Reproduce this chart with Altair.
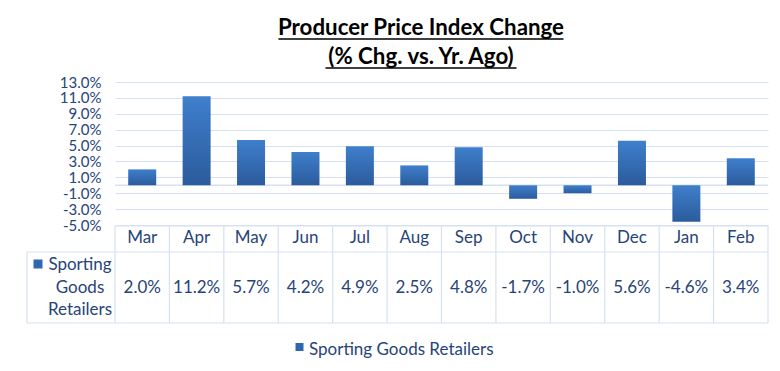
import altair as alt
import pandas as pd

months = ["Mar", "Apr", "May", "Jun", "Jul", "Aug", "Sep", "Oct", "Nov", "Dec", "Jan", "Feb"]
values = [2.0, 11.2, 5.7, 4.2, 4.9, 2.5, 4.8, -1.7, -1.0, 5.6, -4.6, 3.4]
series_name = "Sporting Goods Retailers"
title_lines = ["Producer Price Index Change", "(% Chg. vs. Yr. Ago)"]
y_ticks = [-5, -3, -1, 1, 3, 5, 7, 9, 11, 13]

FONT = "Lato"
TXT = "#264478"
GRID = "#D5E1F2"
W, H = 653, 143

df = pd.DataFrame({"month": months, "value": values, "label": [f"{v:.1f}%" for v in values]})
one = pd.DataFrame({"series": [series_name], "lab": [series_name.replace(" ", "\n")], "zero": [0]})

xenc = alt.X("month:N", sort=months, scale=alt.Scale(paddingInner=0, paddingOuter=0), axis=None)
xpos = alt.X("month:N", sort=months, axis=None)
yscale = alt.Scale(domain=[-5, 13], nice=False, zero=False)

grad = alt.Gradient(
    gradient="linear",
    stops=[alt.GradientStop(color="#3F7FCC", offset=0), alt.GradientStop(color="#2B5B9C", offset=1)],
    x1=0, x2=0, y1=0, y2=1,
)

base = alt.Chart(df)

grid = base.mark_bar(opacity=0).encode(
    x=xenc,
    y=alt.Y("value:Q", scale=yscale, title=None,
            axis=alt.Axis(values=y_ticks, tickCount=30, grid=True, gridColor=GRID, gridWidth=1.2,
                          domain=False, ticks=False, labelPadding=14, labelOverlap=False,
                          labelExpr="(datum.value < 0 ? '-' : '') + format(abs(datum.value), '.1f') + '%'",
                          labelFont=FONT, labelFontSize=15, labelColor=TXT)),
)

zero_line = alt.Chart(one).mark_rule(color=GRID, strokeWidth=1.5).encode(
    y=alt.Y("zero:Q"), x=alt.value(0), x2=alt.value(W))

bars = base.mark_bar(size=28, color=grad).encode(
    x=xpos, y=alt.Y("value:Q"), y2=alt.datum(0))

vlines = base.mark_rule(color=GRID, strokeWidth=1.2).encode(
    x=alt.X("month:N", sort=months, bandPosition=0, axis=None), y=alt.value(144), y2=alt.value(241))
hline_top = alt.Chart(one).mark_rule(color=GRID, strokeWidth=1.2).encode(
    x=alt.value(0), x2=alt.value(W), y=alt.value(144))
hline_mid = alt.Chart(one).mark_rule(color=GRID, strokeWidth=1.2).encode(
    x=alt.value(-88), x2=alt.value(W), y=alt.value(170))
hline_bot = alt.Chart(one).mark_rule(color=GRID, strokeWidth=1.2).encode(
    x=alt.value(-88), x2=alt.value(W), y=alt.value(241))
vleft = alt.Chart(one).mark_rule(color=GRID, strokeWidth=1.2).encode(
    x=alt.value(-88), y=alt.value(170), y2=alt.value(241))
vright = alt.Chart(one).mark_rule(color=GRID, strokeWidth=1.2).encode(
    x=alt.value(W), y=alt.value(144), y2=alt.value(241))

month_text = base.mark_text(font=FONT, fontSize=17, color=TXT, baseline="middle").encode(
    x=xpos, y=alt.value(156), text="month:N")
value_text = base.mark_text(font=FONT, fontSize=17, color=TXT, baseline="middle").encode(
    x=xpos, y=alt.value(206), text="label:N")

row_label = alt.Chart(one).mark_text(font=FONT, fontSize=17, color=TXT, baseline="middle", align="center",
                                     lineBreak="\n", lineHeight=22.5).encode(
    x=alt.value(-35), y=alt.value(183), text="lab:N")
row_sq = alt.Chart(one).mark_square(size=81, color="#2F66B0", opacity=1).encode(
    x=alt.value(-77), y=alt.value(182))

leg_sq = alt.Chart(one).mark_square(size=64, color="#2F66B0", opacity=1).encode(
    x=alt.value(184.5), y=alt.value(265))
leg_txt = alt.Chart(one).mark_text(font=FONT, fontSize=17, color=TXT, align="left", baseline="middle").encode(
    x=alt.value(194), y=alt.value(268), text="series:N")

tdf = pd.DataFrame({"t": title_lines, "ty": [-54, -25]})
titles = alt.Chart(tdf).mark_text(
    font=FONT, fontSize=22.3, fontWeight="bold", color="#000000", align="center", baseline="middle").encode(
    x=alt.value(306), y=alt.Y("ty:Q", scale=None), text="t:N")
u1 = alt.Chart(one).mark_rule(color="#000000", strokeWidth=1.5).encode(
    x=alt.value(306 - 142.5), x2=alt.value(306 + 142.5), y=alt.value(-43))
u2 = alt.Chart(one).mark_rule(color="#000000", strokeWidth=1.5).encode(
    x=alt.value(306 - 95.5), x2=alt.value(306 + 95.5), y=alt.value(-14))

chart = alt.layer(
    grid, zero_line, hline_top, hline_mid, hline_bot, vleft, vright, vlines,
    bars, month_text, value_text, row_label, row_sq, leg_sq, leg_txt,
    titles, u1, u2,
).properties(
    width=W, height=H,
    autosize=alt.AutoSizeParams(type="none"),
    padding={"left": 107, "top": 74, "right": 4, "bottom": 138},
).configure_view(strokeWidth=0)

chart.save("out.html", embed_options={"renderer": "svg", "actions": False})
